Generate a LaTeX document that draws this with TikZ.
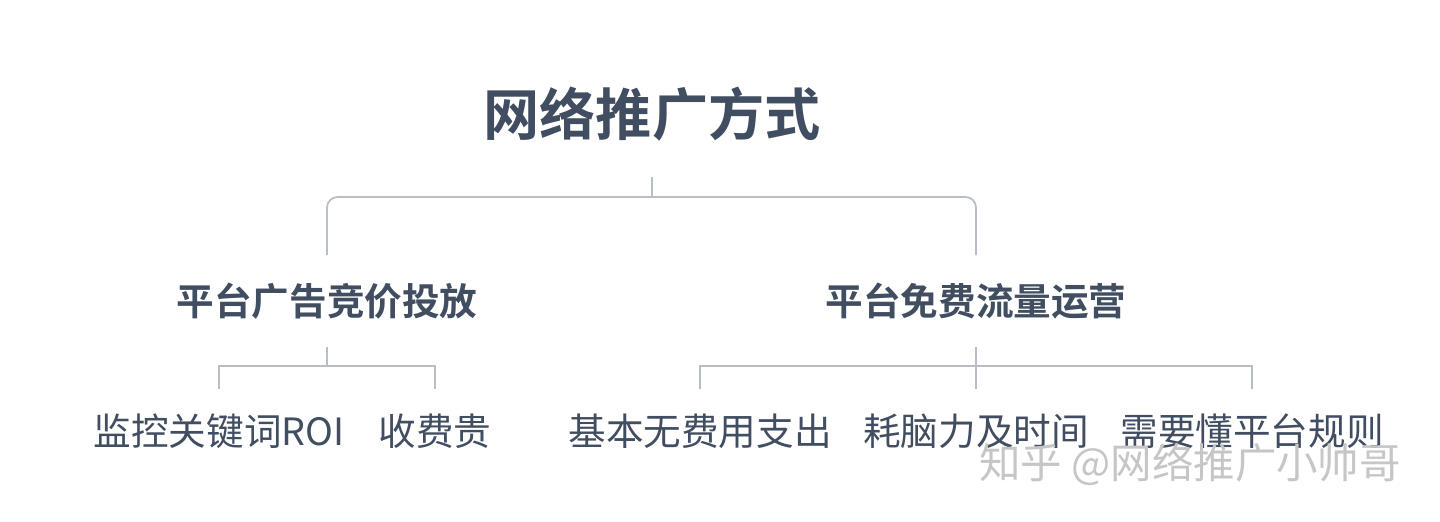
\documentclass[tikz,border=0pt]{standalone}
\usepackage{fontspec}
\setmainfont{Noto Sans CJK SC}
\newfontfamily\cjkbold{Noto Sans CJK SC Bold}
\usetikzlibrary{positioning}
\definecolor{inkslate}{HTML}{414D60}
\definecolor{linegrey}{HTML}{B7BEC7}
\definecolor{markgrey}{HTML}{C6C6C6}
\tikzset{
  head/.style={text=inkslate, font=\cjkbold\fontsize{32}{36}\selectfont, inner sep=0pt},
  branch/.style={text=inkslate, font=\cjkbold\fontsize{21.4}{24}\selectfont, inner sep=0pt},
  leaf/.style={text=inkslate, font=\fontsize{21.4}{24}\selectfont, inner sep=0pt},
  conn/.style={line width=1pt, color=linegrey},
}

\begin{document}
\begin{tikzpicture}[x=0.02cm, y=-0.02cm]
	%%%%% START %%%%%
	\useasboundingbox[fill=white] (0,0) rectangle (1440,521);
	
	\node[head] (title) at (652,114) {网络推广方式};
	
	\node[branch] (paid) at (327,301) {平台广告竞价投放};
	\node[branch] (free) at (976,301) {平台免费流量运营};
	
	\node[leaf] (roi) at (219,431) {监控关键词ROI};
	\node[leaf] (fee) at (435,431) {收费贵};
	\node[leaf] (nocost) at (700,431) {基本无费用支出};
	\node[leaf] (effort) at (976,431) {耗脑力及时间};
	\node[leaf] (rules) at (1252,431) {需要懂平台规则};
	
	\node[text=markgrey, font=\fontsize{23.6}{27}\selectfont, inner sep=0pt] (mark) at (1190,464) {知乎 @网络推广小帅哥};
	
	% top tree
	\coordinate (title-out) at (652,177);
	\coordinate (title-bus) at (652,197);
	\coordinate (paid-in) at (327,255);
	\coordinate (free-in) at (976,255);
	\draw[conn] (title-out) -- (title-bus);
	\draw[conn, rounded corners=6pt] (paid-in) |- (title-bus) -| (free-in);
	
	% left branch
	\coordinate (paid-out) at (327,347);
	\coordinate (paid-bus) at (327,366);
	\coordinate (roi-in) at (219,389);
	\coordinate (fee-in) at (435,389);
	\draw[conn] (paid-out) -- (paid-bus);
	\draw[conn] (roi-in) |- (paid-bus) -| (fee-in);
	
	% right branch
	\coordinate (free-out) at (976,347);
	\coordinate (free-bus) at (976,366);
	\coordinate (nocost-in) at (700,389);
	\coordinate (effort-in) at (976,389);
	\coordinate (rules-in) at (1252,389);
	\draw[conn] (free-out) -- (effort-in);
	\draw[conn] (nocost-in) |- (free-bus) -| (rules-in);
	
	%%%%% END %%%%%
\end{tikzpicture}
\end{document}
